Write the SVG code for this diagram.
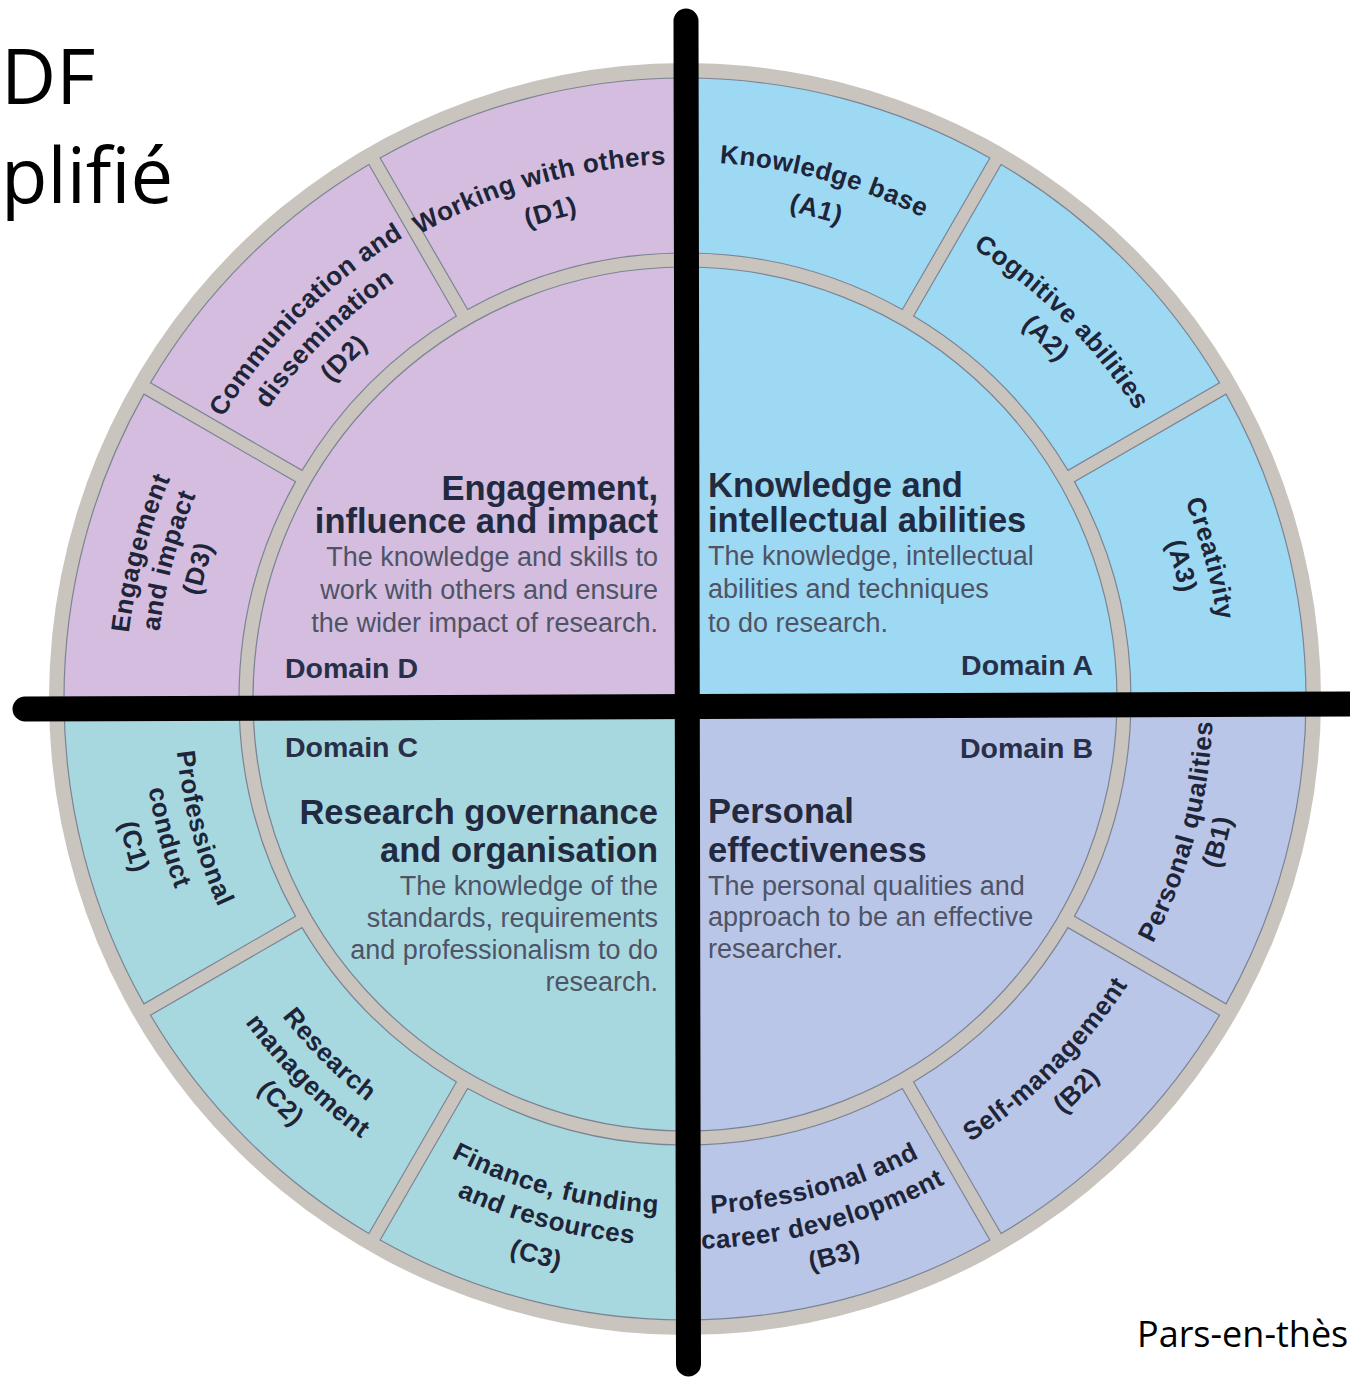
<svg xmlns="http://www.w3.org/2000/svg" width="1350" height="1378" viewBox="0 0 1350 1378">
<style>
.seg{font-family:"Liberation Sans",Arial,sans-serif;font-weight:bold;font-size:26px;fill:#1e2539;text-anchor:middle;letter-spacing:0.5px}
.head{font-family:"Liberation Sans",Arial,sans-serif;font-weight:bold;font-size:34.5px;fill:#222a40}
.desc{font-family:"Liberation Sans",Arial,sans-serif;font-size:27px;fill:#4e5466}
.dom{font-family:"Liberation Sans",Arial,sans-serif;font-weight:bold;font-size:28.5px;fill:#283049}
.title{font-family:"Open Sans","Noto Sans",sans-serif;fill:#000}
.sector{stroke:#7c8494;stroke-width:1.2}
.qa{fill:#9ed9f4}.qb{fill:#bac6e8}.qc{fill:#a8d8df}.qd{fill:#d4bddf}
.end{text-anchor:end}
</style>
<defs>
<path id="tA1a" d="M416.5,233.94 A537,537 0 0 1 1150.06,430.5"/>
<path id="tA1b" d="M435.5,266.85 A499,499 0 0 1 1117.15,449.5"/>
<path id="tA2a" d="M685,164 A535,535 0 0 1 1220,699"/>
<path id="tA2b" d="M685,197 A502,502 0 0 1 1187,699"/>
<path id="tA3a" d="M954,233.08 A538,538 0 0 1 1150.92,968"/>
<path id="tA3b" d="M938,260.79 A506,506 0 0 1 1123.21,952"/>
<path id="tD1a" d="M221.68,431.5 A535,535 0 0 1 952.5,235.68"/>
<path id="tD1b" d="M254.58,450.5 A497,497 0 0 1 933.5,268.58"/>
<path id="tD2a" d="M144,699 A541,541 0 0 1 685,158"/>
<path id="tD2b" d="M177,699 A508,508 0 0 1 685,191"/>
<path id="tD2c" d="M211,699 A474,474 0 0 1 685,225"/>
<path id="tD3a" d="M200.03,979 A560,560 0 0 1 405,214.03"/>
<path id="tD3b" d="M226.01,964 A530,530 0 0 1 420,240.01"/>
<path id="tD3c" d="M255.45,947 A496,496 0 0 1 437,269.45"/>
<path id="tB1a" d="M949,1156.26 A528,528 0 0 0 1142.26,435"/>
<path id="tB1b" d="M965,1183.97 A560,560 0 0 0 1169.97,419"/>
<path id="tB2a" d="M685,1226 A527,527 0 0 0 1212,699"/>
<path id="tB2b" d="M685,1261 A562,562 0 0 0 1247,699"/>
<path id="tB3a" d="M427.5,1145 A515,515 0 0 0 1131,956.5"/>
<path id="tB3b" d="M410,1175.31 A550,550 0 0 0 1161.31,974"/>
<path id="tB3c" d="M392.5,1205.62 A585,585 0 0 0 1191.62,991.5"/>
<path id="tC3a" d="M239,956.5 A515,515 0 0 0 942.5,1145"/>
<path id="tC3b" d="M211.28,972.5 A547,547 0 0 0 958.5,1172.72"/>
<path id="tC3c" d="M179.24,991 A584,584 0 0 0 977,1204.76"/>
<path id="tC2a" d="M172,699 A513,513 0 0 0 685,1212"/>
<path id="tC2b" d="M139,699 A546,546 0 0 0 685,1245"/>
<path id="tC2c" d="M105,699 A580,580 0 0 0 685,1279"/>
<path id="tC1a" d="M242.46,443.5 A511,511 0 0 0 429.5,1141.54"/>
<path id="tC1b" d="M213.88,427 A544,544 0 0 0 413,1170.12"/>
<path id="tC1c" d="M183.57,409.5 A579,579 0 0 0 395.5,1200.43"/>
</defs>
<rect x="0" y="0" width="1350" height="1378" fill="#ffffff"/>
<g id="title">
<text class="title" x="1" y="104" font-size="76">DF</text>
<text class="title" x="1" y="203" font-size="76">plifié</text>
<text class="title" x="1137" y="1347" font-size="36">Pars-en-thès</text>
</g>
<g id="wheel">
<circle cx="685" cy="699" r="636" fill="#c9c4bd"/>
</g>
<g id="domainA">
<path class="qa sector" d="M685,699 L1117,699 A432,432 0 0 0 685,267 Z"/>
<text class="head" x="708" y="497">Knowledge and</text>
<text class="head" x="708" y="532">intellectual abilities</text>
<text class="desc" x="708" y="565">The knowledge, intellectual</text>
<text class="desc" x="708" y="598">abilities and techniques</text>
<text class="desc" x="708" y="632">to do research.</text>
<text class="dom end" x="1093" y="675">Domain A</text>
</g>
<g id="domainB">
<path class="qb sector" d="M685,699 L685,1131 A432,432 0 0 0 1117,699 Z"/>
<text class="head" x="708" y="823">Personal</text>
<text class="head" x="708" y="862">effectiveness</text>
<text class="desc" x="708" y="895">The personal qualities and</text>
<text class="desc" x="708" y="926">approach to be an effective</text>
<text class="desc" x="708" y="958">researcher.</text>
<text class="dom end" x="1093" y="758">Domain B</text>
</g>
<g id="domainC">
<path class="qc sector" d="M685,699 L253,699 A432,432 0 0 0 685,1131 Z"/>
<text class="head end" x="658" y="824">Research governance</text>
<text class="head end" x="658" y="862">and organisation</text>
<text class="desc end" x="658" y="895">The knowledge of the</text>
<text class="desc end" x="658" y="927">standards, requirements</text>
<text class="desc end" x="658" y="959">and professionalism to do</text>
<text class="desc end" x="658" y="991">research.</text>
<text class="dom" x="285" y="757">Domain C</text>
</g>
<g id="domainD">
<path class="qd sector" d="M685,699 L685,267 A432,432 0 0 0 253,699 Z"/>
<text class="head end" x="658" y="500">Engagement,</text>
<text class="head end" x="658" y="533">influence and impact</text>
<text class="desc end" x="658" y="566">The knowledge and skills to</text>
<text class="desc end" x="658" y="599">work with others and ensure</text>
<text class="desc end" x="658" y="632">the wider impact of research.</text>
<text class="dom" x="285" y="678">Domain D</text>
</g>
<g id="A1">
<path class="qa sector" d="M989.85,157.97 A621,621 0 0 0 685,78 L685,253 A446,446 0 0 1 902.35,309.54 Z"/>
<text class="seg"><textPath href="#tA1a" startOffset="50%">Knowledge base</textPath></text>
<text class="seg"><textPath href="#tA1b" startOffset="50%">(A1)</textPath></text>
</g>
<g id="A2">
<path class="qa sector" d="M1219.52,382.89 A621,621 0 0 0 1001.11,164.48 L913.61,316.04 A446,446 0 0 1 1067.96,470.39 Z"/>
<text class="seg"><textPath href="#tA2a" startOffset="50%">Cognitive abilities</textPath></text>
<text class="seg"><textPath href="#tA2b" startOffset="50%">(A2)</textPath></text>
</g>
<g id="A3">
<path class="qa sector" d="M1306,699 A621,621 0 0 0 1226.03,394.15 L1074.46,481.65 A446,446 0 0 1 1131,699 Z"/>
<text class="seg"><textPath href="#tA3a" startOffset="50%">Creativity</textPath></text>
<text class="seg"><textPath href="#tA3b" startOffset="50%">(A3)</textPath></text>
</g>
<g id="B1">
<path class="qb sector" d="M1226.03,1003.85 A621,621 0 0 0 1306,699 L1131,699 A446,446 0 0 1 1074.46,916.35 Z"/>
<text class="seg"><textPath href="#tB1a" startOffset="50%">Personal qualities</textPath></text>
<text class="seg"><textPath href="#tB1b" startOffset="50%">(B1)</textPath></text>
</g>
<g id="B2">
<path class="qb sector" d="M1001.11,1233.52 A621,621 0 0 0 1219.52,1015.11 L1067.96,927.61 A446,446 0 0 1 913.61,1081.96 Z"/>
<text class="seg"><textPath href="#tB2a" startOffset="50%">Self-management</textPath></text>
<text class="seg"><textPath href="#tB2b" startOffset="50%">(B2)</textPath></text>
</g>
<g id="B3">
<path class="qb sector" d="M685,1320 A621,621 0 0 0 989.85,1240.03 L902.35,1088.46 A446,446 0 0 1 685,1145 Z"/>
<text class="seg"><textPath href="#tB3a" startOffset="50%">Professional and</textPath></text>
<text class="seg"><textPath href="#tB3b" startOffset="50%">career development</textPath></text>
<text class="seg"><textPath href="#tB3c" startOffset="50%">(B3)</textPath></text>
</g>
<g id="C3">
<path class="qc sector" d="M380.15,1240.03 A621,621 0 0 0 685,1320 L685,1145 A446,446 0 0 1 467.65,1088.46 Z"/>
<text class="seg"><textPath href="#tC3a" startOffset="50%">Finance, funding</textPath></text>
<text class="seg"><textPath href="#tC3b" startOffset="50%">and resources</textPath></text>
<text class="seg"><textPath href="#tC3c" startOffset="50%">(C3)</textPath></text>
</g>
<g id="C2">
<path class="qc sector" d="M150.48,1015.11 A621,621 0 0 0 368.89,1233.52 L456.39,1081.96 A446,446 0 0 1 302.04,927.61 Z"/>
<text class="seg"><textPath href="#tC2a" startOffset="50%">Research</textPath></text>
<text class="seg"><textPath href="#tC2b" startOffset="50%">management</textPath></text>
<text class="seg"><textPath href="#tC2c" startOffset="50%">(C2)</textPath></text>
</g>
<g id="C1">
<path class="qc sector" d="M64,699 A621,621 0 0 0 143.97,1003.85 L295.54,916.35 A446,446 0 0 1 239,699 Z"/>
<text class="seg"><textPath href="#tC1a" startOffset="50%">Professional</textPath></text>
<text class="seg"><textPath href="#tC1b" startOffset="50%">conduct</textPath></text>
<text class="seg"><textPath href="#tC1c" startOffset="50%">(C1)</textPath></text>
</g>
<g id="D1">
<path class="qd sector" d="M685,78 A621,621 0 0 0 380.15,157.97 L467.65,309.54 A446,446 0 0 1 685,253 Z"/>
<text class="seg"><textPath href="#tD1a" startOffset="49%">Working with others</textPath></text>
<text class="seg"><textPath href="#tD1b" startOffset="49.5%">(D1)</textPath></text>
</g>
<g id="D2">
<path class="qd sector" d="M368.89,164.48 A621,621 0 0 0 150.48,382.89 L302.04,470.39 A446,446 0 0 1 456.39,316.04 Z"/>
<text class="seg"><textPath href="#tD2a" startOffset="50%">Communication and</textPath></text>
<text class="seg"><textPath href="#tD2b" startOffset="50%">dissemination</textPath></text>
<text class="seg"><textPath href="#tD2c" startOffset="50%">(D2)</textPath></text>
</g>
<g id="D3">
<path class="qd sector" d="M143.97,394.15 A621,621 0 0 0 64,699 L239,699 A446,446 0 0 1 295.54,481.65 Z"/>
<text class="seg"><textPath href="#tD3a" startOffset="50%">Engagement</textPath></text>
<text class="seg"><textPath href="#tD3b" startOffset="50%">and impact</textPath></text>
<text class="seg"><textPath href="#tD3c" startOffset="50%">(D3)</textPath></text>
</g>
<g id="connectors" stroke="#000000" stroke-width="25" stroke-linecap="round" fill="none">
<line x1="686" y1="21" x2="688.5" y2="1364"/>
<line x1="25" y1="709" x2="1362" y2="704"/>
</g>
</svg>
